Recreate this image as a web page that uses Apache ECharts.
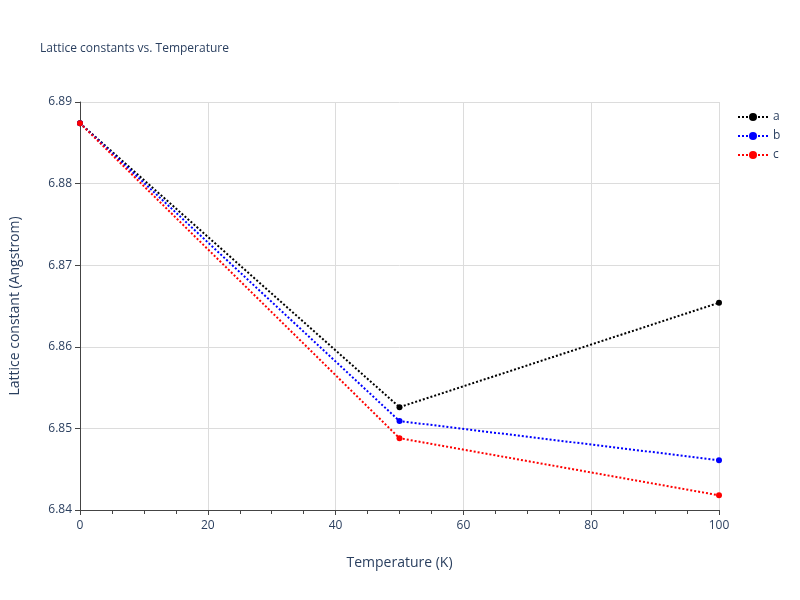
<!DOCTYPE html>
<html><head><meta charset="utf-8">
<script src="https://cdn.jsdelivr.net/npm/echarts@6/dist/echarts.min.js"></script>
</head><body style="margin:0">
<div id="c" style="width:800px;height:600px"></div>
<script>
const temps = [0, 50, 100];
const aVals = [6.8874, 6.8526, 6.8654];
const bVals = [6.8874, 6.8509, 6.8461];
const cVals = [6.8874, 6.8488, 6.8418];
const names = ['a', 'b', 'c'];
const colors = ['#000000', '#0000ff', '#ff0000'];
const vals = [aVals, bVals, cVals];
const chart = echarts.init(document.getElementById('c'));
const txt = '#2a3f5f';
chart.setOption({
  animation: false,
  title: {text: 'Lattice constants vs. Temperature', left: 35, top: 38,
    textStyle: {fontSize: 12, fontWeight: 'normal', color: txt, fontFamily: 'Open Sans'}},
  legend: {orient: 'vertical', left: 732, top: 106, itemGap: 7, itemWidth: 30, itemHeight: 10,
    textStyle: {color: txt, fontSize: 12, fontFamily: 'Open Sans'},
    data: names},
  grid: {left: 80, right: 81, top: 102, bottom: 90},
  xAxis: {type: 'value', min: 0, max: 100, interval: 20,
    name: 'Temperature (K)', nameLocation: 'middle', nameGap: 46,
    nameTextStyle: {fontSize: 14, color: txt, fontFamily: 'Open Sans'},
    axisLine: {onZero: false, lineStyle: {color: '#444'}},
    axisTick: {show: true, length: 5, lineStyle: {color: '#444'}},
    minorTick: {show: true, splitNumber: 4, length: 4, lineStyle: {color: '#444'}},
    axisLabel: {color: txt, fontSize: 12, fontFamily: 'Open Sans', margin: 10},
    splitLine: {lineStyle: {color: '#dcdcdc'}}},
  yAxis: {type: 'value', min: 6.84, max: 6.89, interval: 0.01,
    name: 'Lattice constant (Angstrom)', nameLocation: 'middle', nameGap: 58,
    nameTextStyle: {fontSize: 14, color: txt, fontFamily: 'Open Sans'},
    axisLine: {show: true, lineStyle: {color: '#444'}},
    axisTick: {show: true, length: 5, lineStyle: {color: '#444'}},
    axisLabel: {color: txt, fontSize: 12, fontFamily: 'Open Sans', formatter: v => v.toFixed(2)},
    splitLine: {lineStyle: {color: '#dcdcdc'}}},
  series: names.map((n, i) => ({
    name: n, type: 'line', data: temps.map((t, j) => [t, vals[i][j]]),
    symbol: 'circle', symbolSize: 6, color: colors[i],
    lineStyle: {type: 'dotted', width: 2, color: colors[i]},
    itemStyle: {color: colors[i]}
  }))
});
</script></body></html>
